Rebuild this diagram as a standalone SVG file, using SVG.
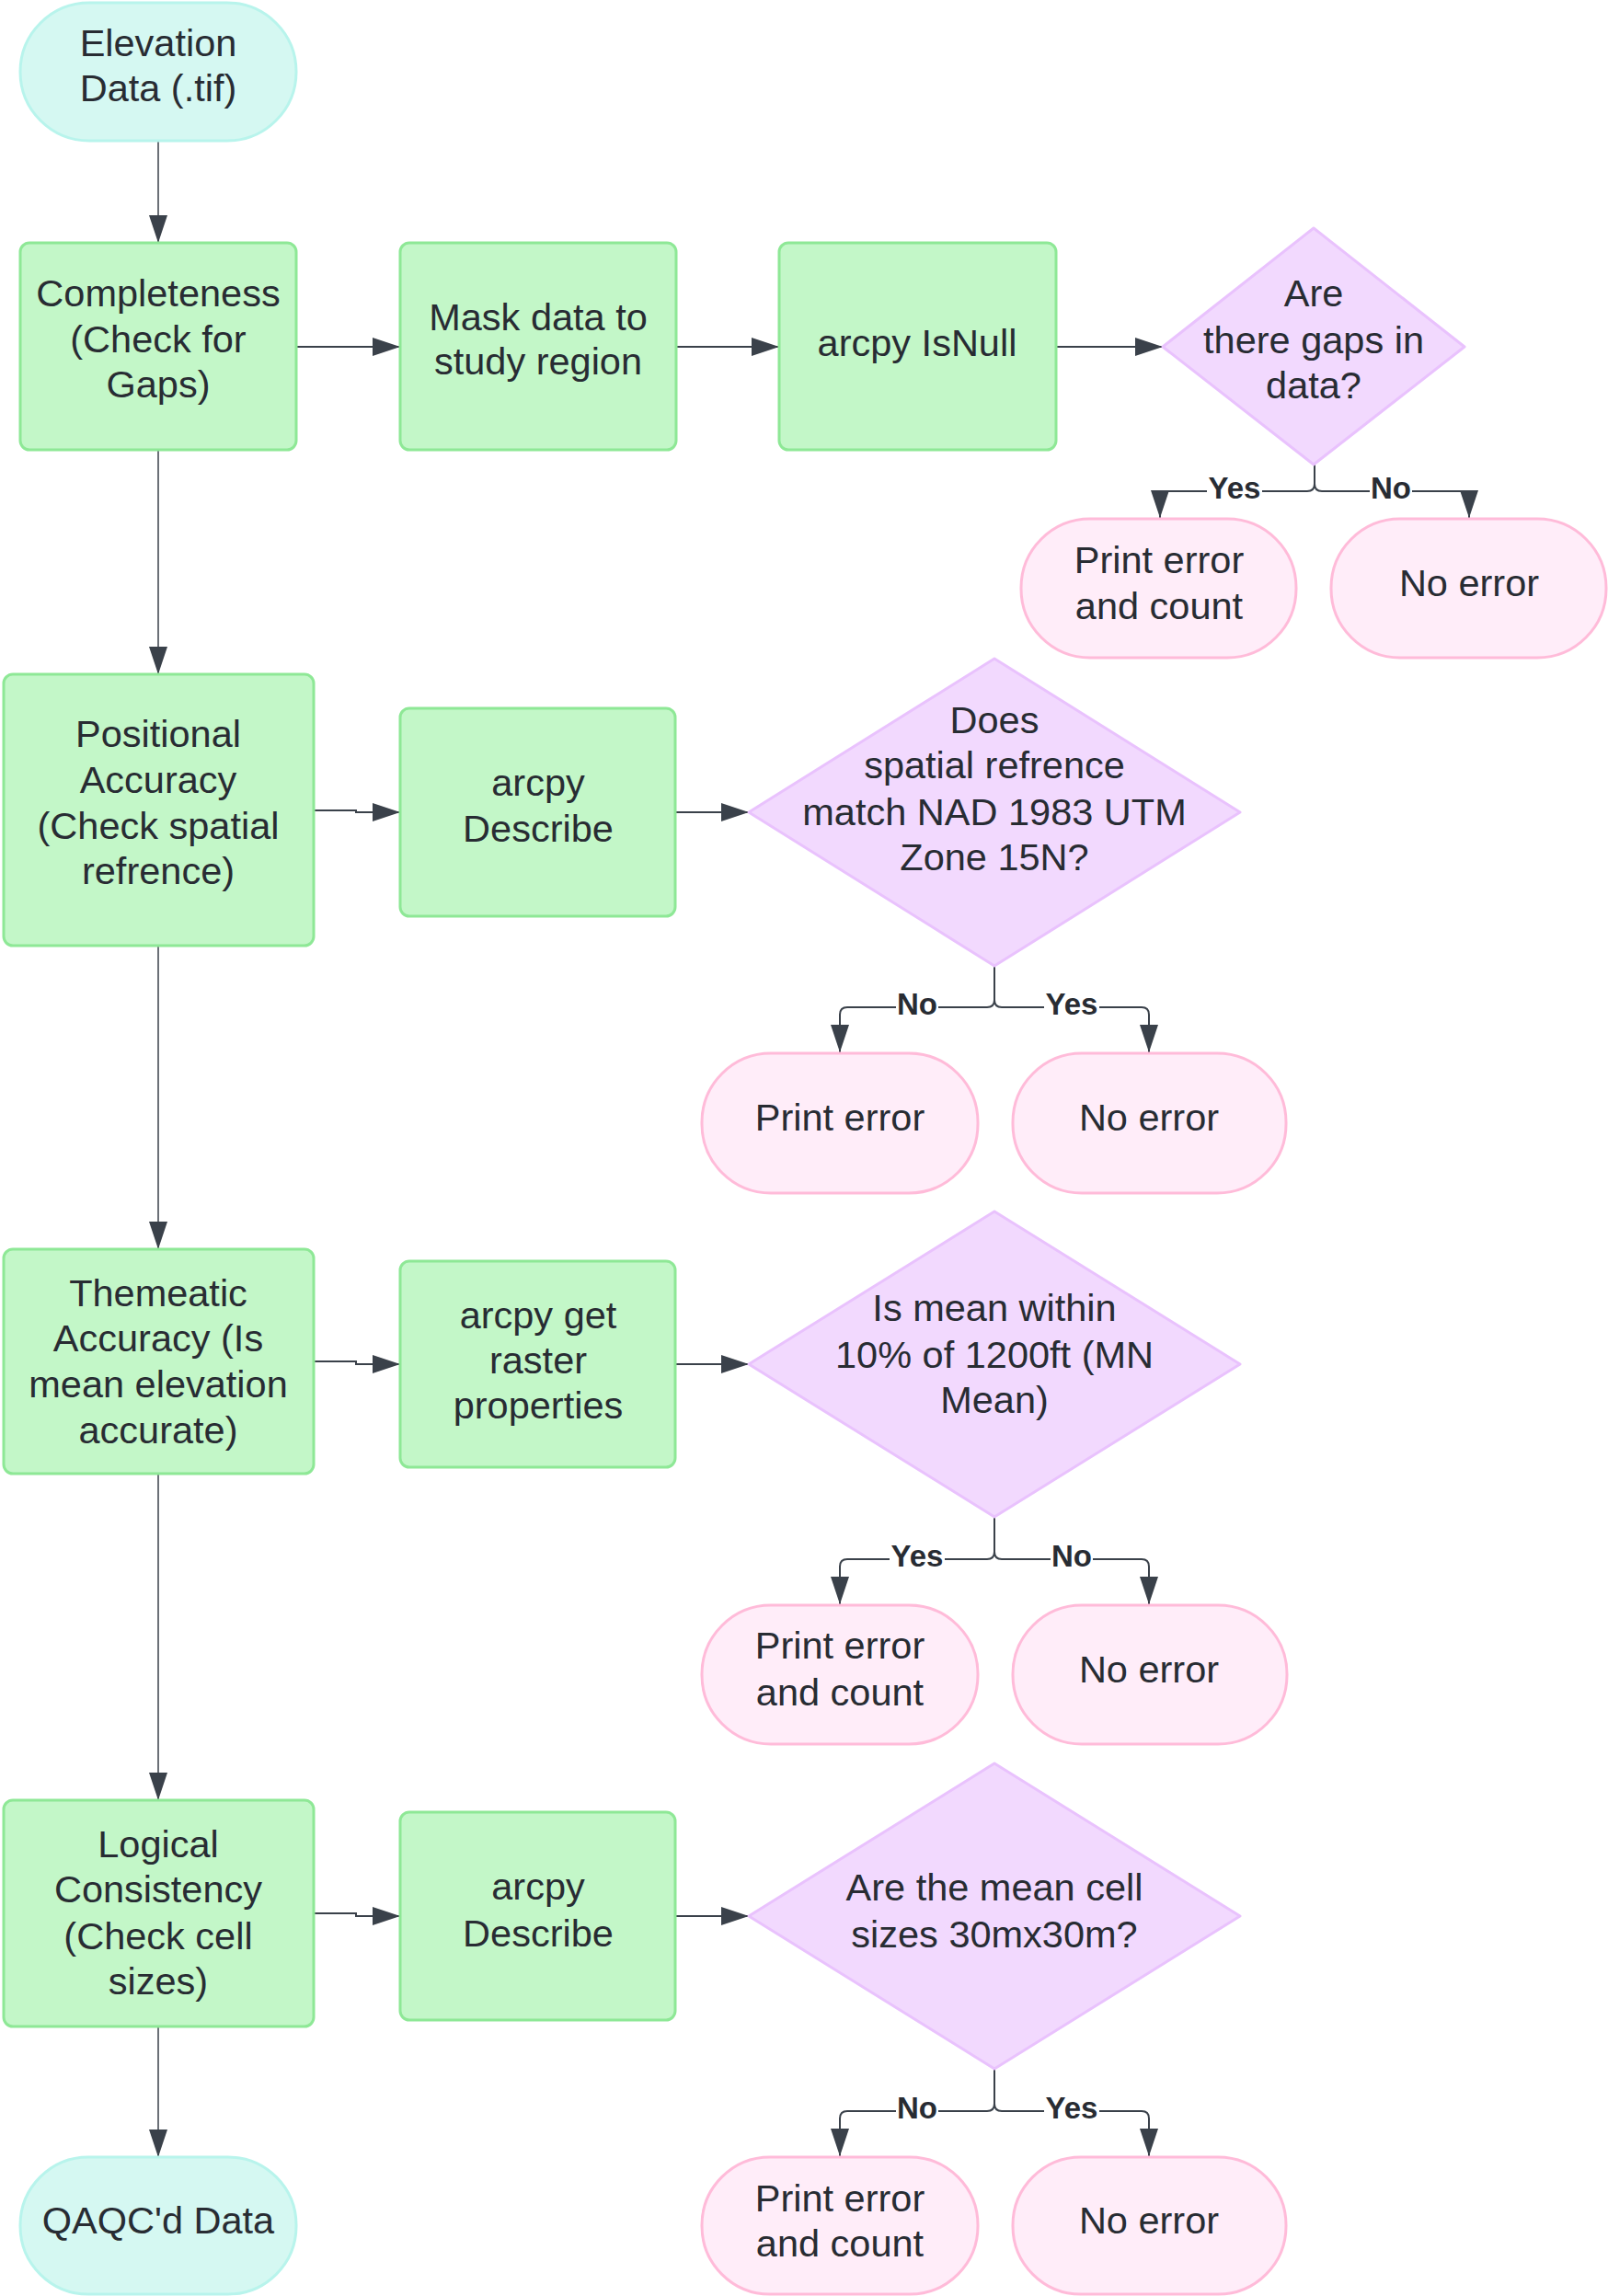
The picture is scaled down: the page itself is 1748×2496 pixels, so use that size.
<svg xmlns="http://www.w3.org/2000/svg" width="1748" height="2496" viewBox="0 0 1748 2496">
  <defs>
    <style>
      .box { fill: #c3f7c8; stroke: #8ee896; stroke-width: 3; }
      .term { fill: #d5f8f2; stroke: #b8f4ec; stroke-width: 3; }
      .out { fill: #ffedf9; stroke: #ffbbd9; stroke-width: 3; }
      .dec { fill: #f2d9fe; stroke: #e9c2fd; stroke-width: 3; stroke-linejoin: round; }
      .t { font-family: "Liberation Sans", Arial, sans-serif; font-size: 41.5px; fill: #282c33; text-anchor: middle; }
      .lbl { font-family: "Liberation Sans", Arial, sans-serif; font-size: 33px; font-weight: bold; fill: #282c33; text-anchor: middle; }
      .ln { fill: none; stroke: #3a414a; stroke-width: 2; }
      .lnv { fill: none; stroke: #3a414a; stroke-width: 1.5; }
      .bg { fill: #ffffff; }
    </style>
    <marker id="ah" markerUnits="userSpaceOnUse" markerWidth="30" markerHeight="20" refX="30" refY="10" orient="auto">
      <path d="M0,0 L30,10 L0,20 Z" fill="#3a414a"/>
    </marker>
  </defs>

  <!-- connectors -->
  <g id="connectors">
    <!-- main spine -->
    <path class="lnv" d="M172,153 V264" marker-end="url(#ah)"/>
    <path class="lnv" d="M172,489 V733" marker-end="url(#ah)"/>
    <path class="lnv" d="M172,1028 V1358" marker-end="url(#ah)"/>
    <path class="lnv" d="M172,1602 V1957" marker-end="url(#ah)"/>
    <path class="lnv" d="M172,2203 V2345" marker-end="url(#ah)"/>

    <!-- row 1 -->
    <path class="ln" d="M322,377 H435" marker-end="url(#ah)"/>
    <path class="ln" d="M735,377 H847" marker-end="url(#ah)"/>
    <path class="ln" d="M1148,377 H1264" marker-end="url(#ah)"/>
    <path class="ln" d="M1429,505 V526 Q1429,534 1421,534 H1261 V563" marker-end="url(#ah)"/>
    <path class="ln" d="M1429,505 V526 Q1429,534 1437,534 H1597 V563" marker-end="url(#ah)"/>

    <!-- row 2 -->
    <path class="ln" d="M341,881 H387 V883 H435" marker-end="url(#ah)"/>
    <path class="ln" d="M734,883 H814" marker-end="url(#ah)"/>
    <path class="ln" d="M1081,1050 V1087 Q1081,1095 1073,1095 H921 Q913,1095 913,1103 V1144" marker-end="url(#ah)"/>
    <path class="ln" d="M1081,1050 V1087 Q1081,1095 1089,1095 H1241 Q1249,1095 1249,1103 V1144" marker-end="url(#ah)"/>

    <!-- row 3 -->
    <path class="ln" d="M341,1480 H387 V1483 H435" marker-end="url(#ah)"/>
    <path class="ln" d="M734,1483 H814" marker-end="url(#ah)"/>
    <path class="ln" d="M1081,1649 V1687 Q1081,1695 1073,1695 H921 Q913,1695 913,1703 V1744" marker-end="url(#ah)"/>
    <path class="ln" d="M1081,1649 V1687 Q1081,1695 1089,1695 H1241 Q1249,1695 1249,1703 V1744" marker-end="url(#ah)"/>

    <!-- row 4 -->
    <path class="ln" d="M341,2080 H387 V2083 H435" marker-end="url(#ah)"/>
    <path class="ln" d="M734,2083 H814" marker-end="url(#ah)"/>
    <path class="ln" d="M1081,2249 V2287 Q1081,2295 1073,2295 H921 Q913,2295 913,2303 V2344" marker-end="url(#ah)"/>
    <path class="ln" d="M1081,2249 V2287 Q1081,2295 1089,2295 H1241 Q1249,2295 1249,2303 V2344" marker-end="url(#ah)"/>

    <!-- branch labels -->
    <rect class="bg" x="1312" y="517" width="60" height="30"/>
    <text class="lbl" x="1342" y="542">Yes</text>
    <rect class="bg" x="1489" y="517" width="46" height="30"/>
    <text class="lbl" x="1512" y="542">No</text>

    <rect class="bg" x="974" y="1078" width="46" height="30"/>
    <text class="lbl" x="997" y="1103">No</text>
    <rect class="bg" x="1135" y="1078" width="60" height="30"/>
    <text class="lbl" x="1165" y="1103">Yes</text>

    <rect class="bg" x="967" y="1678" width="60" height="30"/>
    <text class="lbl" x="997" y="1703">Yes</text>
    <rect class="bg" x="1142" y="1678" width="46" height="30"/>
    <text class="lbl" x="1165" y="1703">No</text>

    <rect class="bg" x="974" y="2278" width="46" height="30"/>
    <text class="lbl" x="997" y="2303">No</text>
    <rect class="bg" x="1135" y="2278" width="60" height="30"/>
    <text class="lbl" x="1165" y="2303">Yes</text>
  </g>

  <!-- start / end terminals -->
  <g id="elevation-data">
    <rect class="term" x="22" y="3" width="300" height="150" rx="75" ry="75"/>
    <text class="t" x="172" y="61">Elevation</text>
    <text class="t" x="172" y="110">Data (.tif)</text>
  </g>
  <g id="qaqc-data">
    <rect class="term" x="22" y="2345" width="300" height="149" rx="74" ry="74"/>
    <text class="t" x="172" y="2428">QAQC'd Data</text>
  </g>

  <!-- row 1: completeness -->
  <g id="completeness">
    <rect class="box" x="22" y="264" width="300" height="225" rx="10"/>
    <text class="t" x="172" y="333">Completeness</text>
    <text class="t" x="172" y="383">(Check for</text>
    <text class="t" x="172" y="432">Gaps)</text>
  </g>
  <g id="mask">
    <rect class="box" x="435" y="264" width="300" height="225" rx="10"/>
    <text class="t" x="585" y="359">Mask data to</text>
    <text class="t" x="585" y="407">study region</text>
  </g>
  <g id="isnull">
    <rect class="box" x="847" y="264" width="301" height="225" rx="10"/>
    <text class="t" x="997" y="387">arcpy IsNull</text>
  </g>
  <g id="gaps-decision">
    <path class="dec" d="M1428,248 L1592,377 L1428,505 L1264,377 Z"/>
    <text class="t" x="1428" y="333">Are</text>
    <text class="t" x="1428" y="384">there gaps in</text>
    <text class="t" x="1428" y="433">data?</text>
  </g>
  <g id="gaps-error">
    <rect class="out" x="1110" y="564" width="299" height="151" rx="75" ry="75"/>
    <text class="t" x="1260" y="623">Print error</text>
    <text class="t" x="1260" y="673">and count</text>
  </g>
  <g id="gaps-ok">
    <rect class="out" x="1447" y="564" width="299" height="151" rx="75" ry="75"/>
    <text class="t" x="1597" y="648">No error</text>
  </g>

  <!-- row 2: positional accuracy -->
  <g id="positional">
    <rect class="box" x="4" y="733" width="337" height="295" rx="10"/>
    <text class="t" x="172" y="812">Positional</text>
    <text class="t" x="172" y="862">Accuracy</text>
    <text class="t" x="172" y="912">(Check spatial</text>
    <text class="t" x="172" y="961">refrence)</text>
  </g>
  <g id="describe-1">
    <rect class="box" x="435" y="770" width="299" height="226" rx="10"/>
    <text class="t" x="585" y="865">arcpy</text>
    <text class="t" x="585" y="915">Describe</text>
  </g>
  <g id="sr-decision">
    <path class="dec" d="M1081,716 L1348,883 L1081,1050 L814,883 Z"/>
    <text class="t" x="1081" y="797">Does</text>
    <text class="t" x="1081" y="846">spatial refrence</text>
    <text class="t" x="1081" y="897">match NAD 1983 UTM</text>
    <text class="t" x="1081" y="946">Zone 15N?</text>
  </g>
  <g id="sr-error">
    <rect class="out" x="763" y="1145" width="300" height="152" rx="75" ry="75"/>
    <text class="t" x="913" y="1229">Print error</text>
  </g>
  <g id="sr-ok">
    <rect class="out" x="1101" y="1145" width="297" height="152" rx="75" ry="75"/>
    <text class="t" x="1249" y="1229">No error</text>
  </g>

  <!-- row 3: thematic accuracy -->
  <g id="thematic">
    <rect class="box" x="4" y="1358" width="337" height="244" rx="10"/>
    <text class="t" x="172" y="1420">Themeatic</text>
    <text class="t" x="172" y="1469">Accuracy (Is</text>
    <text class="t" x="172" y="1519">mean elevation</text>
    <text class="t" x="172" y="1569">accurate)</text>
  </g>
  <g id="raster-properties">
    <rect class="box" x="435" y="1371" width="299" height="224" rx="10"/>
    <text class="t" x="585" y="1444">arcpy get</text>
    <text class="t" x="585" y="1493">raster</text>
    <text class="t" x="585" y="1542">properties</text>
  </g>
  <g id="mean-decision">
    <path class="dec" d="M1081,1317 L1348,1483 L1081,1649 L814,1483 Z"/>
    <text class="t" x="1081" y="1436">Is mean within</text>
    <text class="t" x="1081" y="1487">10% of 1200ft (MN</text>
    <text class="t" x="1081" y="1536">Mean)</text>
  </g>
  <g id="mean-error">
    <rect class="out" x="763" y="1745" width="300" height="151" rx="75" ry="75"/>
    <text class="t" x="913" y="1803">Print error</text>
    <text class="t" x="913" y="1854">and count</text>
  </g>
  <g id="mean-ok">
    <rect class="out" x="1101" y="1745" width="298" height="151" rx="75" ry="75"/>
    <text class="t" x="1249" y="1829">No error</text>
  </g>

  <!-- row 4: logical consistency -->
  <g id="logical">
    <rect class="box" x="4" y="1957" width="337" height="246" rx="10"/>
    <text class="t" x="172" y="2019">Logical</text>
    <text class="t" x="172" y="2068">Consistency</text>
    <text class="t" x="172" y="2119">(Check cell</text>
    <text class="t" x="172" y="2168">sizes)</text>
  </g>
  <g id="describe-2">
    <rect class="box" x="435" y="1970" width="299" height="226" rx="10"/>
    <text class="t" x="585" y="2065">arcpy</text>
    <text class="t" x="585" y="2116">Describe</text>
  </g>
  <g id="cell-decision">
    <path class="dec" d="M1081,1917 L1348,2083 L1081,2249 L814,2083 Z"/>
    <text class="t" x="1081" y="2066">Are the mean cell</text>
    <text class="t" x="1081" y="2117">sizes 30mx30m?</text>
  </g>
  <g id="cell-error">
    <rect class="out" x="763" y="2345" width="300" height="149" rx="74" ry="74"/>
    <text class="t" x="913" y="2404">Print error</text>
    <text class="t" x="913" y="2453">and count</text>
  </g>
  <g id="cell-ok">
    <rect class="out" x="1101" y="2345" width="297" height="149" rx="74" ry="74"/>
    <text class="t" x="1249" y="2428">No error</text>
  </g>
</svg>
